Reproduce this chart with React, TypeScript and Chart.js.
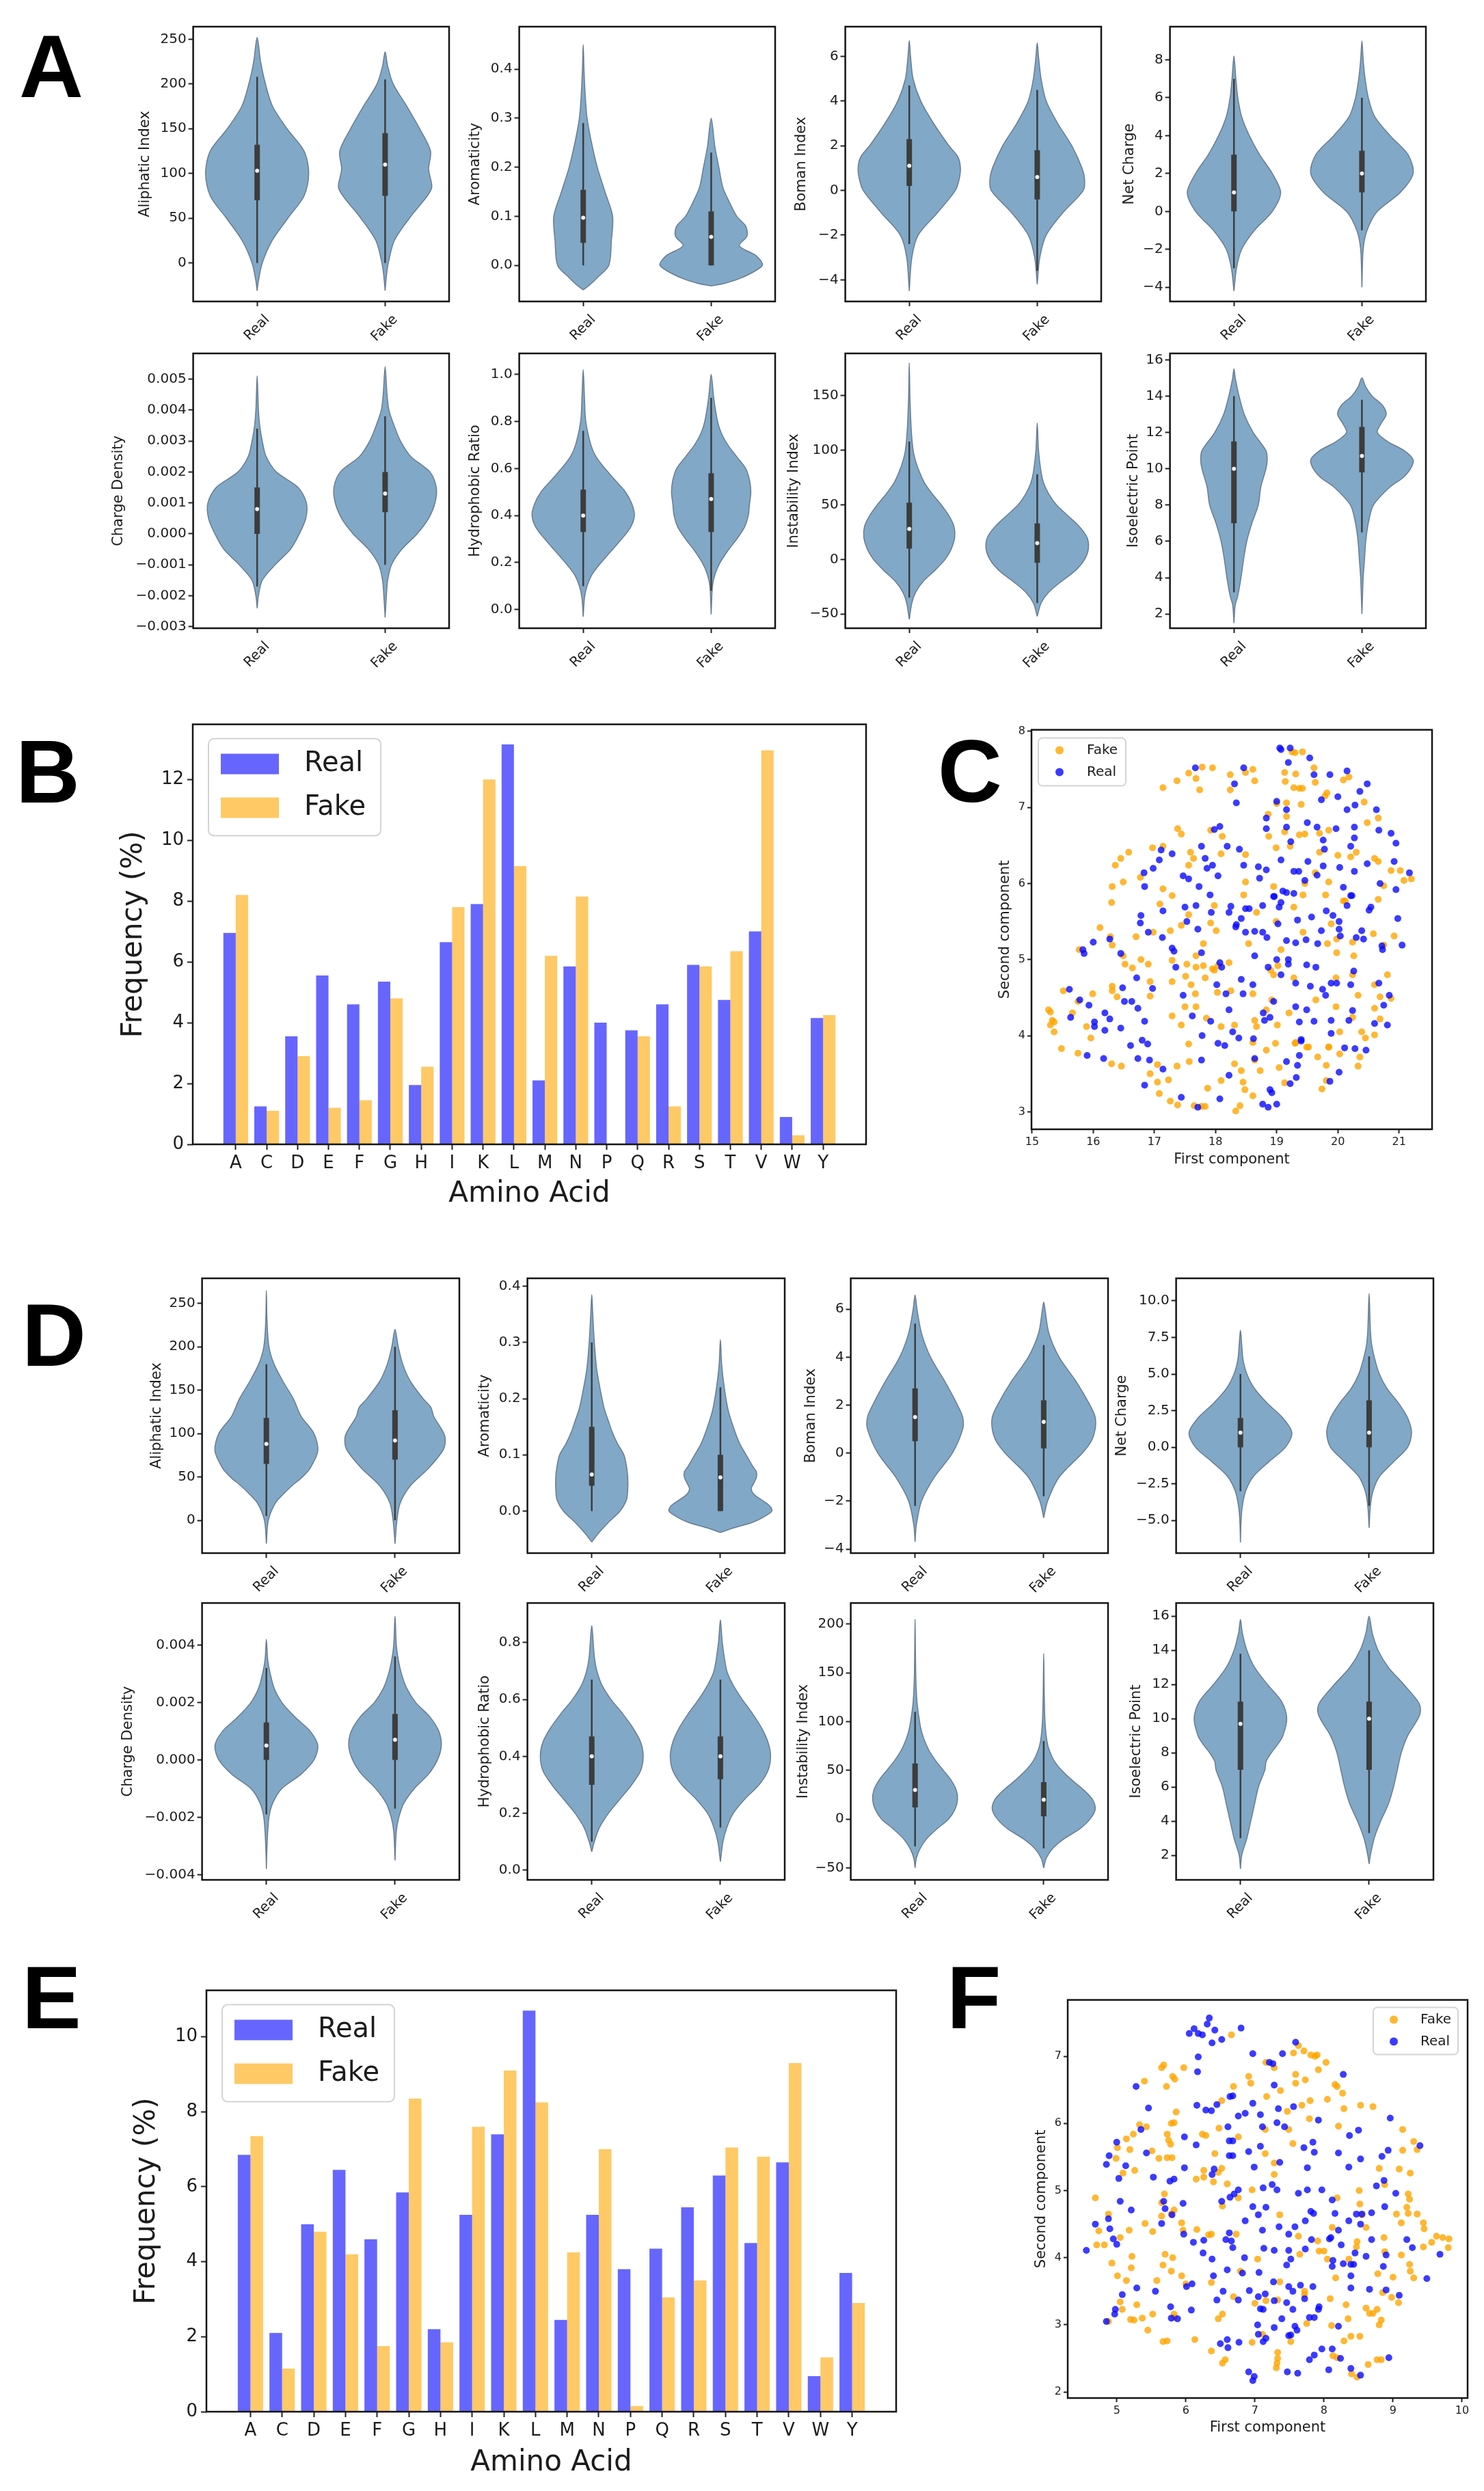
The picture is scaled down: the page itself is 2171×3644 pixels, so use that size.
import React, { useEffect, useRef } from "react";
import { Chart, registerables } from "chart.js";
Chart.register(...registerables);

const FONT = "'DejaVu Sans', 'Liberation Sans', sans-serif";
const TXT = "#1c1c1c";
const TICK_C = "#222222";
const V_FILL = "rgb(129,168,199)";
const V_EDGE = "rgb(105,125,145)";
const BOX_C = "#3c3c3c";
const REAL_BAR = "#6666ff";
const FAKE_BAR = "#ffc966";
const REAL_PT = "rgba(10,10,255,0.8)";
const FAKE_PT = "rgba(255,165,0,0.8)";

// ---------------- violin data: [value, half-width] profiles, box = [low, q1, median, q3, high]
const VIOLIN_GROUPS = ["Real", "Fake"];

const A_ALI_REAL = [[-31,0],[-20,0.01],[0,0.04],[25,0.117],[50,0.24],[75,0.367],[100,0.403],[125,0.367],[150,0.233],[175,0.12],[200,0.065],[225,0.027],[252,0]];
const A_ALI_FAKE = [[-31,0],[-15,0.01],[0,0.025],[25,0.072],[50,0.19],[75,0.33],[85,0.365],[105,0.34],[125,0.355],[150,0.27],[175,0.17],[200,0.063],[220,0.02],[236,0]];
const A_ALI_REAL_BOX = [0, 70, 103, 132, 208];
const A_ALI_FAKE_BOX = [0, 75, 110, 145, 205];
const A_ALI_TICKS = [0, 50, 100, 150, 200, 250];

const A_ARO_REAL = [[-0.05,0],[-0.04,0.05],[-0.025,0.11],[0,0.2],[0.05,0.22],[0.1,0.23],[0.15,0.17],[0.2,0.11],[0.25,0.065],[0.3,0.03],[0.35,0.015],[0.4,0.006],[0.45,0]];
const A_ARO_FAKE = [[-0.042,0],[-0.037,0.1],[-0.025,0.24],[0,0.4],[0.02,0.35],[0.04,0.22],[0.06,0.28],[0.08,0.27],[0.1,0.2],[0.13,0.14],[0.16,0.09],[0.2,0.06],[0.24,0.03],[0.3,0]];
const A_ARO_REAL_BOX = [0, 0.046, 0.097, 0.154, 0.29];
const A_ARO_FAKE_BOX = [0, 0, 0.058, 0.11, 0.23];
const A_ARO_TICKS = [0, 0.1, 0.2, 0.3, 0.4];

const A_BOM_REAL = [[-4.5,0],[-3,0.02],[-2,0.07],[-1,0.22],[0,0.36],[0.5,0.39],[1,0.4],[1.5,0.38],[2,0.31],[3,0.19],[4,0.09],[5,0.03],[6,0.01],[6.7,0]];
const A_BOM_FAKE = [[-4.2,0],[-3,0.02],[-2,0.07],[-1,0.2],[0,0.36],[0.5,0.37],[1,0.35],[2,0.27],[3,0.16],[4,0.07],[5,0.03],[6,0.01],[6.6,0]];
const A_BOM_REAL_BOX = [-2.4, 0.2, 1.1, 2.3, 4.7];
const A_BOM_FAKE_BOX = [-3.6, -0.4, 0.6, 1.8, 4.5];
const A_BOM_TICKS = [-4, -2, 0, 2, 4, 6];

const A_NET_REAL = [[-4.2,0],[-3,0.02],[-2,0.06],[-1,0.16],[0,0.3],[1,0.365],[2,0.3],[3,0.2],[4,0.12],[5,0.06],[6,0.03],[7,0.015],[8.2,0]];
const A_NET_FAKE = [[-4,0],[-2,0.01],[-1,0.04],[0,0.12],[1,0.3],[2,0.4],[3,0.36],[4,0.22],[5,0.1],[6,0.05],[7,0.025],[8,0.01],[9,0]];
const A_NET_REAL_BOX = [-3, 0, 1, 3, 7];
const A_NET_FAKE_BOX = [-1, 1, 2, 3.2, 6];
const A_NET_TICKS = [-4, -2, 0, 2, 4, 6, 8];

const A_CHG_REAL = [[-0.0024,0],[-0.002,0.01],[-0.0015,0.04],[-0.001,0.14],[-0.0005,0.26],[0,0.33],[0.0005,0.38],[0.001,0.385],[0.0015,0.32],[0.002,0.15],[0.0025,0.07],[0.003,0.04],[0.0035,0.02],[0.004,0.01],[0.0051,0]];
const A_CHG_FAKE = [[-0.0027,0],[-0.002,0.01],[-0.0015,0.02],[-0.001,0.05],[-0.0005,0.13],[0,0.25],[0.0005,0.34],[0.001,0.39],[0.0015,0.4],[0.002,0.35],[0.0025,0.2],[0.003,0.12],[0.0035,0.07],[0.004,0.03],[0.0045,0.015],[0.0054,0]];
const A_CHG_REAL_BOX = [-0.0017, 0, 0.0008, 0.0015, 0.0034];
const A_CHG_FAKE_BOX = [-0.001, 0.0007, 0.0013, 0.002, 0.0038];
const A_CHG_TICKS = [-0.003, -0.002, -0.001, 0, 0.001, 0.002, 0.003, 0.004, 0.005];

const A_HYD_REAL = [[-0.03,0],[0.05,0.01],[0.1,0.03],[0.15,0.07],[0.2,0.14],[0.25,0.22],[0.3,0.3],[0.35,0.37],[0.4,0.4],[0.45,0.38],[0.5,0.33],[0.55,0.25],[0.6,0.17],[0.65,0.1],[0.7,0.06],[0.8,0.02],[0.9,0.01],[1.02,0]];
const A_HYD_FAKE = [[-0.02,0],[0.1,0.01],[0.15,0.03],[0.2,0.07],[0.25,0.13],[0.3,0.2],[0.35,0.26],[0.4,0.29],[0.45,0.3],[0.5,0.31],[0.55,0.3],[0.6,0.27],[0.65,0.2],[0.7,0.13],[0.75,0.08],[0.8,0.05],[0.9,0.02],[1.0,0]];
const A_HYD_REAL_BOX = [0.1, 0.33, 0.4, 0.51, 0.76];
const A_HYD_FAKE_BOX = [0.08, 0.33, 0.47, 0.58, 0.9];
const A_HYD_TICKS = [0, 0.2, 0.4, 0.6, 0.8, 1.0];

const A_INS_REAL = [[-55,0],[-40,0.02],[-30,0.05],[-20,0.11],[-10,0.2],[0,0.28],[10,0.33],[20,0.355],[30,0.35],[40,0.31],[50,0.25],[60,0.18],[70,0.12],[80,0.08],[90,0.05],[100,0.03],[120,0.015],[150,0.005],[180,0]];
const A_INS_FAKE = [[-52,0],[-40,0.03],[-30,0.09],[-20,0.19],[-10,0.3],[0,0.37],[10,0.4],[20,0.39],[30,0.33],[40,0.24],[50,0.15],[60,0.09],[70,0.05],[80,0.03],[100,0.01],[125,0]];
const A_INS_REAL_BOX = [-35, 10, 28, 52, 108];
const A_INS_FAKE_BOX = [-40, -3, 15, 33, 78];
const A_INS_TICKS = [-50, 0, 50, 100, 150];

const A_ISO_REAL = [[1.5,0],[2.5,0.01],[3,0.03],[4,0.055],[5,0.075],[6,0.1],[7,0.14],[8,0.19],[9,0.21],[10,0.25],[10.5,0.26],[11,0.25],[12,0.15],[13,0.08],[14,0.04],[15,0.01],[15.5,0]];
const A_ISO_FAKE = [[2,0],[4,0.01],[5,0.02],[6,0.03],[7,0.05],[8,0.09],[9,0.22],[9.5,0.32],[10,0.38],[10.5,0.4],[11,0.33],[11.5,0.2],[12,0.12],[12.5,0.15],[13,0.19],[13.5,0.16],[14,0.08],[14.5,0.03],[15,0]];
const A_ISO_REAL_BOX = [3.2, 7, 10, 11.5, 14];
const A_ISO_FAKE_BOX = [6.5, 9.8, 10.7, 12.3, 13.8];
const A_ISO_TICKS = [2, 4, 6, 8, 10, 12, 14, 16];

const D_ALI_REAL = [[-27,0],[0,0.015],[20,0.07],[30,0.13],[40,0.2],[50,0.28],[60,0.34],[80,0.4],[100,0.37],[120,0.27],[140,0.21],[160,0.13],[180,0.06],[200,0.02],[230,0.005],[265,0]];
const D_ALI_FAKE = [[-27,0],[0,0.015],[20,0.04],[40,0.12],[60,0.26],[80,0.37],[90,0.39],[100,0.38],[120,0.3],[130,0.28],[140,0.22],[160,0.12],[180,0.06],[200,0.025],[220,0]];
const D_ALI_REAL_BOX = [5, 65, 88, 118, 180];
const D_ALI_FAKE_BOX = [0, 70, 92, 127, 200];
const D_ALI_TICKS = [0, 50, 100, 150, 200, 250];

const D_ARO_REAL = [[-0.055,0],[-0.04,0.05],[-0.02,0.13],[0,0.22],[0.02,0.27],[0.04,0.28],[0.06,0.28],[0.08,0.27],[0.1,0.25],[0.12,0.2],[0.14,0.16],[0.16,0.13],[0.18,0.1],[0.2,0.08],[0.25,0.04],[0.3,0.02],[0.35,0.008],[0.385,0]];
const D_ARO_FAKE = [[-0.038,0],[-0.03,0.1],[-0.02,0.25],[-0.01,0.34],[0,0.4],[0.01,0.38],[0.02,0.32],[0.03,0.26],[0.04,0.24],[0.05,0.26],[0.06,0.28],[0.07,0.28],[0.08,0.25],[0.1,0.2],[0.12,0.15],[0.15,0.1],[0.18,0.06],[0.22,0.03],[0.26,0.01],[0.305,0]];
const D_ARO_REAL_BOX = [0, 0.045, 0.065, 0.15, 0.3];
const D_ARO_FAKE_BOX = [0, 0, 0.06, 0.1, 0.22];
const D_ARO_TICKS = [0, 0.1, 0.2, 0.3, 0.4];

const D_BOM_REAL = [[-3.7,0],[-3,0.01],[-2,0.05],[-1,0.15],[0,0.29],[1,0.37],[1.5,0.37],[2,0.33],[3,0.23],[4,0.12],[5,0.05],[6,0.015],[6.6,0]];
const D_BOM_FAKE = [[-2.7,0],[-2,0.03],[-1,0.12],[0,0.3],[0.5,0.37],[1,0.4],[1.5,0.4],[2,0.36],[3,0.25],[4,0.12],[5,0.04],[6,0.01],[6.3,0]];
const D_BOM_REAL_BOX = [-2.2, 0.5, 1.5, 2.7, 5.4];
const D_BOM_FAKE_BOX = [-1.8, 0.2, 1.3, 2.2, 4.5];
const D_BOM_TICKS = [-4, -2, 0, 2, 4, 6];

const D_NET_REAL = [[-6.5,0],[-5,0.005],[-4,0.015],[-3,0.04],[-2,0.1],[-1,0.22],[0,0.35],[1,0.4],[2,0.33],[3,0.21],[4,0.11],[5,0.05],[6,0.02],[7,0.01],[8,0]];
const D_NET_FAKE = [[-5.5,0],[-4,0.01],[-3,0.03],[-2,0.08],[-1,0.19],[0,0.3],[1,0.33],[2,0.3],[3,0.23],[4,0.14],[5,0.08],[6,0.045],[7,0.02],[8,0.01],[10.5,0]];
const D_NET_REAL_BOX = [-3, 0, 1, 2, 5];
const D_NET_FAKE_BOX = [-4, 0, 1, 3.2, 6.2];
const D_NET_TICKS = [-5, -2.5, 0, 2.5, 5, 7.5, 10];

const D_CHG_REAL = [[-0.0038,0],[-0.003,0.005],[-0.002,0.02],[-0.0015,0.05],[-0.001,0.12],[-0.0005,0.27],[0,0.37],[0.0005,0.4],[0.001,0.34],[0.0015,0.22],[0.002,0.12],[0.0025,0.06],[0.003,0.03],[0.0035,0.01],[0.0042,0]];
const D_CHG_FAKE = [[-0.0035,0],[-0.0025,0.01],[-0.002,0.03],[-0.0015,0.07],[-0.001,0.15],[-0.0005,0.26],[0,0.33],[0.0005,0.36],[0.001,0.34],[0.0015,0.27],[0.002,0.16],[0.0025,0.09],[0.003,0.05],[0.0035,0.025],[0.004,0.01],[0.005,0]];
const D_CHG_REAL_BOX = [-0.0019, 0, 0.0005, 0.0013, 0.0032];
const D_CHG_FAKE_BOX = [-0.0017, 0, 0.0007, 0.0016, 0.0036];
const D_CHG_TICKS = [-0.004, -0.002, 0, 0.002, 0.004];

const D_HYD_REAL = [[0.065,0],[0.1,0.02],[0.15,0.06],[0.2,0.13],[0.25,0.22],[0.3,0.31],[0.35,0.38],[0.4,0.4],[0.45,0.38],[0.5,0.32],[0.55,0.24],[0.6,0.15],[0.65,0.08],[0.7,0.04],[0.75,0.02],[0.86,0]];
const D_HYD_FAKE = [[0.03,0],[0.1,0.02],[0.15,0.05],[0.2,0.1],[0.25,0.19],[0.3,0.3],[0.35,0.37],[0.4,0.39],[0.45,0.37],[0.5,0.32],[0.55,0.25],[0.6,0.17],[0.65,0.1],[0.7,0.05],[0.8,0.015],[0.88,0]];
const D_HYD_REAL_BOX = [0.1, 0.3, 0.4, 0.47, 0.67];
const D_HYD_FAKE_BOX = [0.15, 0.32, 0.4, 0.47, 0.67];
const D_HYD_TICKS = [0, 0.2, 0.4, 0.6, 0.8];

const D_INS_REAL = [[-50,0],[-40,0.01],[-30,0.04],[-20,0.09],[-10,0.17],[0,0.26],[10,0.31],[20,0.33],[30,0.32],[40,0.28],[50,0.22],[60,0.16],[70,0.11],[80,0.075],[90,0.05],[100,0.035],[120,0.015],[150,0.005],[205,0]];
const D_INS_FAKE = [[-50,0],[-40,0.02],[-30,0.07],[-20,0.16],[-10,0.28],[0,0.36],[10,0.4],[20,0.38],[30,0.31],[40,0.22],[50,0.14],[60,0.08],[70,0.045],[80,0.025],[100,0.01],[130,0.004],[170,0]];
const D_INS_REAL_BOX = [-28, 12, 30, 57, 110];
const D_INS_FAKE_BOX = [-30, 3, 20, 38, 80];
const D_INS_TICKS = [-50, 0, 50, 100, 150, 200];

const D_ISO_REAL = [[1.2,0],[2,0.01],[3,0.05],[4,0.08],[5,0.11],[6,0.14],[7,0.19],[7.5,0.2],[8,0.24],[8.5,0.29],[9,0.33],[10,0.36],[11,0.32],[12,0.21],[13,0.11],[14,0.05],[15,0.015],[15.8,0]];
const D_ISO_FAKE = [[1.5,0],[2,0.01],[3,0.04],[4,0.09],[5,0.15],[6,0.19],[7,0.22],[8,0.25],[9,0.3],[10,0.38],[10.5,0.4],[11,0.38],[12,0.27],[13,0.15],[14,0.07],[15,0.025],[16,0]];
const D_ISO_REAL_BOX = [3, 7, 9.7, 11, 13.8];
const D_ISO_FAKE_BOX = [3.3, 7, 10, 11, 14];
const D_ISO_TICKS = [2, 4, 6, 8, 10, 12, 14, 16];

// ---------------- amino acid frequencies
const AMINO = ["A","C","D","E","F","G","H","I","K","L","M","N","P","Q","R","S","T","V","W","Y"];
const B_REAL = [6.95,1.25,3.55,5.55,4.6,5.35,1.95,6.65,7.9,13.15,2.1,5.85,4.0,3.75,4.6,5.9,4.75,7.0,0.9,4.15];
const B_FAKE = [8.2,1.1,2.9,1.2,1.45,4.8,2.55,7.8,12.0,9.15,6.2,8.15,0,3.55,1.25,5.85,6.35,12.95,0.3,4.25];
const B_TICKS = [0, 2, 4, 6, 8, 10, 12];
const E_REAL = [6.85,2.1,5.0,6.45,4.6,5.85,2.2,5.25,7.4,10.7,2.45,5.25,3.8,4.35,5.45,6.3,4.5,6.65,0.95,3.7];
const E_FAKE = [7.35,1.15,4.8,4.2,1.75,8.35,1.85,7.6,9.1,8.25,4.25,7.0,0.15,3.05,3.5,7.05,6.8,9.3,1.45,2.9];
const E_TICKS = [0, 2, 4, 6, 8, 10];

// ---------------- embeddings (first component, second component)
const C_FAKE = [[17.14,7.26],[17.37,7.35],[17.56,7.45],[17.68,7.38],[17.74,7.23],[17.78,7.53],[17.95,7.52],[18.24,7.43],[18.24,7.23],[18.49,7.46],[18.61,7.5],[18.64,7.35],[19.25,7.73],[19.3,7.72],[19.42,7.73],[19.13,7.46],[19.31,7.44],[19.14,7.34],[19.28,7.26],[19.37,7.25],[19.42,7.25],[19.61,7.52],[19.63,7.33],[19.82,7.19],[19.79,7.15],[20.18,7.4],[20.09,7.36],[19.4,7.04],[19.16,7.06],[19.0,7.05],[20.43,7.07],
[17.38,6.72],[17.44,6.65],[16.97,6.47],[17.14,6.49],[16.58,6.41],[16.45,6.33],[16.36,6.24],[16.31,5.96],[16.49,6.02],[16.77,6.08],[17.59,6.41],[17.64,6.33],[17.56,6.24],[17.92,6.7],[18.11,6.62],[18.09,6.39],[18.49,6.38],[18.86,6.91],[18.87,6.62],[19.13,6.68],[19.16,6.88],[19.37,6.64],[19.46,6.65],[19.7,6.66],[19.85,6.7],[19.7,6.41],[18.99,6.47],[19.22,6.49],[20.21,6.35],[20.0,6.37],[20.3,6.41],[20.48,6.8],[20.66,6.86],[20.6,6.33],[20.66,6.29],[20.87,6.17],[21.02,6.17],[21.08,6.04],[21.2,6.06],[19.85,6.02],[19.63,6.14],[19.46,6.0],[18.95,5.96],[18.49,6.02],[20.12,5.77],
[16.3,5.75],[16.11,5.42],[16.31,5.19],[16.28,5.3],[15.77,5.13],[16.49,5.05],[16.52,4.94],[16.64,4.89],[16.78,5.0],[16.9,4.94],[16.7,5.3],[16.98,5.36],[17.14,5.93],[17.09,5.73],[17.29,5.84],[17.26,5.38],[17.44,5.45],[17.56,5.59],[17.29,4.99],[17.53,4.94],[17.68,5.05],[17.68,4.9],[17.8,5.21],[17.92,5.48],[18.01,5.38],[17.98,5.71],[17.8,4.92],[17.95,4.88],[18.04,4.92],[18.22,4.96],[18.54,5.21],[18.46,5.85],[18.67,5.62],[19.07,5.13],[19.28,5.69],[19.43,5.36],[19.43,5.85],[19.83,5.21],[19.89,5.47],[19.8,5.85],[19.98,5.09],[19.98,5.27],[20.09,5.77],[20.24,5.23],[20.26,5.05],[20.58,5.34],[20.75,5.19],[20.92,5.31],[20.66,5.79],[20.75,5.97],[18.99,5.5],[18.9,4.86],[19.02,4.92],
[15.51,4.59],[15.75,4.45],[15.66,4.3],[15.27,4.34],[15.3,4.31],[15.33,4.2],[15.3,4.14],[15.36,4.05],[15.36,4.18],[15.89,4.12],[15.99,4.55],[15.96,3.97],[15.48,3.83],[16.31,4.65],[16.31,4.59],[16.39,4.51],[16.93,4.52],[16.93,4.71],[17.29,4.71],[17.29,4.26],[17.44,4.14],[17.5,4.38],[17.51,4.78],[17.6,4.67],[17.67,4.55],[17.68,4.38],[17.83,4.76],[17.85,4.23],[17.98,4.86],[18.03,4.57],[18.09,4.12],[18.25,4.59],[18.31,4.14],[18.61,4.55],[18.64,4.2],[18.67,4.12],[18.61,3.91],[18.83,4.34],[18.92,4.47],[18.95,4.8],[19.01,4.14],[19.2,4.3],[19.28,4.76],[19.31,3.91],[19.49,3.85],[19.64,4.47],[19.85,3.85],[19.97,4.38],[20.03,4.05],[20.24,4.24],[20.24,4.8],[20.33,4.53],[20.39,4.05],[20.45,3.97],[20.6,4.36],[20.6,4.01],[20.6,4.67],[20.69,4.51],[20.81,4.8],[20.87,4.49],[20.69,4.22],[19.97,4.76],
[15.75,3.77],[16.3,3.63],[16.46,3.6],[16.93,3.5],[17.05,3.62],[17.05,3.39],[17.08,3.24],[17.23,3.42],[17.26,3.14],[17.38,3.09],[17.37,3.6],[17.56,3.89],[17.57,3.66],[17.65,3.08],[17.77,3.07],[17.83,3.07],[17.87,3.31],[18.09,3.41],[18.31,3.63],[18.33,3.01],[18.4,3.08],[18.42,3.54],[18.45,3.39],[18.48,3.29],[18.61,3.21],[18.64,3.68],[18.73,3.54],[18.83,3.81],[18.98,3.9],[19.04,3.58],[19.13,3.38],[19.3,3.9],[19.52,3.85],[19.67,3.72],[19.81,3.61],[19.74,3.3],[19.85,3.85],[20.03,3.76],[20.36,3.72],[20.33,3.6],[19.81,3.41]];

const C_REAL = [[19.05,7.78],[19.07,7.76],[19.22,7.78],[19.19,7.59],[19.54,7.65],[19.61,7.43],[19.87,7.43],[20.15,7.48],[20.48,7.31],[20.36,7.21],[20.0,7.14],[19.73,7.1],[20.28,7.03],[20.15,6.97],[20.63,6.97],[19.16,6.97],[19.0,7.08],[18.31,7.31],[18.34,7.06],[18.46,7.52],[17.67,7.52],
[17.77,6.49],[17.98,6.71],[18.07,6.75],[18.19,6.49],[18.83,6.86],[18.83,6.72],[19.16,6.74],[19.5,6.8],[19.66,6.74],[19.97,6.72],[20.27,6.74],[20.67,6.7],[20.87,6.66],[20.95,6.53],[20.27,6.6],[20.21,6.49],[19.76,6.57],[19.78,6.45],[19.23,6.55],[19.07,6.31],[19.51,6.29],[18.39,6.45],[18.46,6.24],[18.7,6.22],[18.83,6.18],[17.11,6.44],[17.08,6.31],[16.98,6.2],[16.83,6.14],[16.84,5.96],[17.29,6.39],[17.47,6.1],[17.56,6.06],[17.83,6.33],[17.86,6.2],[17.95,6.24],[18.04,6.1],[17.73,5.96],[19.28,6.16],[19.36,6.16],[19.66,6.11],[19.76,6.23],[20.03,6.21],[20.27,6.16],[20.48,6.26],[20.92,6.29],[20.69,6.0],[20.95,5.92],[21.17,6.14],[20.09,5.95],[20.23,5.84],[19.46,6.04],[18.72,6.07],[19.1,5.9],[18.96,5.83],[19.16,5.88],[19.28,5.87],
[16.27,5.27],[16.0,5.23],[15.83,5.13],[15.85,5.08],[16.45,5.08],[16.78,5.58],[16.77,5.48],[16.9,5.36],[17.14,5.64],[17.13,5.29],[17.29,5.15],[17.32,5.11],[17.35,4.9],[17.5,5.69],[17.53,5.5],[17.68,5.71],[17.71,5.4],[17.77,5.09],[17.91,5.85],[17.93,5.62],[18.25,5.7],[18.22,5.62],[18.34,5.46],[18.33,5.43],[18.42,5.54],[18.49,5.67],[18.55,5.67],[18.49,5.36],[18.64,5.37],[18.77,5.36],[18.84,5.29],[18.77,5.71],[18.95,5.83],[19.04,5.69],[19.07,5.75],[19.02,5.47],[19.34,5.52],[19.16,5.25],[19.31,5.22],[19.48,5.26],[19.57,5.56],[19.73,5.38],[19.67,5.21],[19.81,5.64],[19.92,5.58],[20.02,5.5],[20.02,5.4],[20.04,5.31],[20.15,5.71],[20.3,5.29],[20.39,5.38],[20.42,5.27],[20.54,5.69],[20.51,5.65],[20.72,5.18],[20.73,5.13],[20.98,5.54],[21.05,5.19],[20.21,5.84],[18.07,4.96],[18.1,4.9],[18.64,5.05],[19.0,5.0],[19.19,5.0],[19.19,4.94],[19.49,4.93],[19.64,4.9],[18.86,4.9],
[15.61,4.61],[15.63,4.24],[15.78,4.47],[15.93,4.4],[16.02,4.18],[16.02,4.12],[16.19,4.07],[16.19,4.3],[16.27,4.22],[16.45,4.1],[16.48,4.63],[16.51,4.45],[16.63,4.45],[16.73,4.36],[16.71,4.76],[16.84,4.19],[16.97,4.62],[17.47,4.53],[17.62,4.26],[18.02,4.67],[18.17,4.55],[18.22,4.34],[18.42,4.74],[18.45,4.55],[18.61,4.67],[18.78,4.3],[18.8,4.2],[18.89,4.24],[18.95,4.45],[19.07,4.8],[19.31,4.69],[19.31,4.38],[19.37,4.18],[19.49,4.34],[19.55,4.65],[19.61,4.19],[19.75,4.61],[19.8,4.53],[19.89,4.69],[19.89,4.2],[19.89,4.03],[19.98,4.69],[20.18,4.2],[20.21,4.67],[20.24,4.33],[20.26,4.85],[20.6,4.16],[20.67,4.69],[20.75,4.4],[20.81,4.14],[20.84,4.53],[20.11,3.84],[19.4,3.93],[18.62,3.96],[18.38,3.97],[18.28,4.05],[18.15,3.87],[18.04,3.9],[17.92,4.19],[17.78,4.0],
[15.9,3.74],[16.17,3.7],[16.61,3.87],[16.73,3.7],[16.8,3.94],[16.89,3.89],[16.92,3.68],[16.84,3.35],[17.14,3.56],[17.44,3.19],[17.77,3.68],[17.71,3.06],[18.07,3.17],[18.22,3.48],[18.64,3.7],[18.77,3.1],[18.86,3.06],[18.89,3.29],[18.92,3.25],[19.0,3.1],[19.16,3.66],[19.22,3.37],[19.34,3.61],[19.32,3.45],[19.37,3.74],[19.4,3.95],[19.87,3.4],[20.02,3.52],[20.28,3.83],[20.46,3.81]];

const F_REAL = [[6.34,7.57],[6.31,7.48],[6.12,7.41],[6.05,7.34],[6.18,7.34],[6.24,7.32],[6.42,7.39],[6.38,7.2],[6.52,7.25],[6.8,7.42],[6.18,6.99],[6.17,6.77],[7.59,7.21],[6.97,7.04],[7.4,7.04],[7.21,6.91],[7.26,6.89],[7.28,6.57],[8.28,6.73],[5.28,6.55],[5.46,6.23],[5.35,5.91],[6.16,6.27],[6.29,6.2],[6.37,6.19],[6.45,6.28],[6.64,6.4],[6.68,6.41],[6.97,6.3],[6.76,6.11],[6.86,6.15],[7.08,6.13],[7.34,6.22],[7.56,6.25],[7.11,5.95],[7.32,6.01],[7.43,5.95],[7.92,6.05],[8.5,5.9],[8.37,5.82],[8.96,6.08],[9.39,5.67],
[5.0,5.72],[4.89,5.52],[4.85,5.39],[5.13,5.37],[5.03,5.18],[5.43,5.56],[5.53,5.2],[5.98,5.8],[5.98,5.34],[6.15,5.68],[5.83,5.17],[5.77,5.14],[6.61,5.95],[6.63,5.74],[6.68,5.74],[6.63,5.52],[6.68,5.52],[6.41,5.32],[6.38,5.24],[6.91,5.58],[7.08,5.66],[6.99,5.35],[7.36,5.42],[7.71,5.64],[7.76,5.34],[7.84,5.72],[7.86,5.57],[8.21,5.56],[8.36,5.35],[8.53,5.47],[8.84,5.51],[8.93,5.6],[8.87,5.15],[8.76,5.07],[9.04,4.96],[8.88,4.76],[8.69,4.67],[8.12,4.86],[8.16,4.66],[8.55,4.65],[8.53,4.5],[8.47,4.65],[8.36,4.55],[8.21,4.41],[8.1,4.3],[7.76,5.01],[7.97,5.01],[7.73,4.55],[7.81,4.69],[7.85,4.66],[7.63,4.96],[7.58,4.46],[7.49,4.35],[7.32,5.01],[7.25,5.09],[7.12,5.04],[7.16,4.75],[7.05,4.64],[6.97,4.76],[6.86,4.55],[6.76,5.01],[6.7,4.95],[6.64,4.9],[6.52,4.84],[5.96,4.81],[5.68,4.84],[5.7,4.73],[5.8,4.64],[5.65,4.51],[5.21,4.71],[5.05,4.84],[4.88,4.58],[4.9,4.43],[4.69,4.5],[4.95,4.28],[5.0,4.2],[4.56,4.11],[5.97,4.35],[6.11,4.23],[6.26,4.26],[6.63,4.37],[6.66,4.25],[6.68,4.15],[6.58,4.27],[6.25,4.07],[6.38,3.98],[6.85,4.0],[7.28,4.11],[7.13,4.14],[7.11,4.41],[7.35,4.46],[7.49,4.11],[7.52,3.98],[7.46,3.89],[7.73,4.13],[7.82,4.27],[8.08,4.28],[8.13,3.96],[8.12,3.87],[8.25,4.19],[8.28,3.91],[8.39,3.9],[8.43,3.9],[8.45,4.07],[8.61,4.02],[8.69,4.27],[8.9,4.04],[8.86,3.87],[9.2,4.27],[9.28,4.15],[9.68,4.05],[9.49,3.69],
[5.08,3.45],[5.29,3.55],[5.56,3.5],[6.01,3.57],[6.09,3.61],[6.4,3.73],[6.6,3.82],[6.54,3.5],[6.45,3.37],[6.76,3.37],[6.82,3.77],[6.92,3.51],[7.05,3.42],[7.06,3.78],[7.15,3.46],[7.08,3.24],[7.12,3.23],[7.28,3.36],[7.27,3.64],[7.49,3.57],[7.55,3.5],[7.66,3.59],[7.72,3.39],[7.84,3.57],[7.46,3.33],[7.55,3.23],[7.58,2.98],[7.61,2.92],[7.39,3.09],[7.28,2.96],[7.79,3.11],[7.86,3.11],[7.92,3.23],[7.93,3.27],[7.52,2.85],[8.39,3.73],[8.39,3.55],[8.66,3.53],[8.9,3.52],[9.09,3.44],[5.78,3.27],[5.79,3.1],[5.88,3.09],[6.08,3.22],[4.98,3.23],[4.97,3.16],[4.85,3.05],[7.04,3.0],[7.05,2.86],[6.77,2.74],[6.6,2.78],[6.5,2.72],[6.61,2.66],[7.12,2.75],[7.16,2.8],[7.49,2.84],[7.97,2.64],[7.79,2.48],[7.86,2.55],[8.12,2.64],[8.24,2.5],[8.07,2.33],[8.39,2.35],[8.53,2.25],[8.94,2.51],[7.62,2.28],[7.47,2.3],[6.91,2.3],[6.99,2.23],[6.97,2.17],[8.21,2.98]];

const F_FAKE = [[6.66,7.32],[7.56,7.05],[7.63,7.16],[7.71,7.08],[7.81,7.02],[7.87,7.0],[7.9,7.02],[8.03,6.91],[7.16,6.91],[7.28,6.83],[7.92,6.8],[7.59,6.73],[7.59,6.6],[7.73,6.65],[8.16,6.58],[8.19,6.55],[8.27,6.45],[7.37,6.49],[7.17,6.4],[8.05,6.36],[7.8,6.34],[7.68,6.27],[8.53,6.27],[8.71,6.25],[8.29,6.22],[7.47,6.18],[7.49,5.91],[7.79,6.07],[8.21,5.96],[9.14,5.91],[9.14,5.6],[9.3,5.73],[9.35,5.61],[7.55,5.7],[6.91,6.7],[6.94,6.6],[6.69,6.55],[6.52,6.34],[5.4,6.63],[5.65,6.83],[5.68,6.87],[5.97,6.83],[5.81,6.7],[5.84,6.66],[5.72,6.55],[5.86,6.17],[5.79,6.0],[5.83,6.01],[5.73,5.84],[5.75,5.75],[5.78,5.69],[5.33,5.98],[5.43,5.95],[5.24,5.84],[5.14,5.77],[5.01,5.64],[4.99,5.48],[5.19,5.61],[5.51,5.59],[5.61,5.48],[5.73,5.49],[5.8,5.49],[6.24,5.84],[6.29,5.82],[6.48,5.93],[6.76,5.8],[6.42,5.55],[6.52,5.33],[6.26,5.3],[6.15,5.17],[6.26,5.2],[6.4,5.13],[6.6,5.1],[6.47,5.27],[5.26,5.3],[5.09,5.26],[5.69,4.95],[5.65,4.82],[5.83,4.71],[5.79,4.65],[5.65,4.62],[6.53,4.77],[6.76,4.89],[6.96,5.01],[7.15,5.55],[7.28,5.24],[7.28,5.41],[7.15,5.91],
[4.69,4.89],[4.88,4.65],[4.74,4.4],[4.71,4.19],[4.82,4.19],[5.05,4.3],[5.18,4.41],[5.41,4.51],[5.52,4.39],[5.94,4.52],[5.96,4.41],[6.16,4.42],[6.37,4.35],[6.73,4.35],[7.36,4.64],[7.63,4.32],[7.91,4.25],[8.0,4.1],[8.05,3.98],[8.12,4.45],[8.19,4.89],[8.51,5.0],[8.52,4.8],[8.55,4.64],[8.61,4.45],[8.48,4.24],[8.47,4.16],[8.87,4.3],[8.88,4.09],[8.8,5.33],[8.88,5.09],[9.09,5.32],[9.25,5.26],[9.05,4.65],[9.12,4.52],[9.22,4.95],[9.24,4.87],[9.2,4.75],[9.22,4.66],[9.35,4.65],[9.44,4.52],[9.45,4.43],[9.44,4.16],[9.56,4.23],[9.63,4.32],[9.72,4.3],[9.81,4.28],[9.8,4.15],[9.12,4.04],[9.0,3.71],[9.24,3.9],[9.25,3.8],[9.3,3.7],[8.78,3.76],[8.85,3.48],[8.98,3.41],[9.08,3.33],[8.17,3.7],[8.09,3.39],[8.32,3.3],[8.35,3.09],[8.11,2.99],[8.61,3.25],[8.66,3.17],[8.71,3.17],[8.77,3.23],[8.83,3.07],[8.8,3.0],[8.29,2.76],[8.39,2.83],[8.52,2.83],[8.13,2.54],[8.19,2.51],[8.64,2.41],[8.77,2.48],[8.83,2.48],[8.4,2.27],[8.48,2.22],[7.93,4.1],[7.65,4.05],[7.72,3.5],[7.75,3.02],[7.36,3.64],[7.16,3.36],[7.0,3.32],[7.04,3.98],[7.33,2.59],[7.33,2.5],[7.32,2.43],[7.31,2.36],[7.52,2.75],[7.11,2.86],[6.96,2.74],[6.69,3.42],[6.53,3.16],[6.47,3.09],[6.57,2.48],[6.53,2.43],[6.37,2.61],[6.79,3.8],[6.37,3.63],[6.33,4.34],[5.94,3.73],[6.0,3.61],[6.13,2.78],[5.73,2.76],[5.67,2.75],[5.83,3.16],[5.83,3.11],[5.7,4.05],[5.81,4.0],[5.79,3.8],[5.67,3.89],[5.58,3.66],[5.52,3.16],[5.45,2.92],[5.37,3.1],[5.29,3.3],[5.25,3.07],[5.2,3.08],[5.08,3.23],[5.05,3.34],[5.01,3.73],[5.14,3.66],[5.21,3.85],[5.22,4.02],[4.93,3.92],[4.88,3.05],[7.72,3.45],[7.33,3.37],[8.36,3.98]];
const C_XTICKS = [15, 16, 17, 18, 19, 20, 21];
const C_YTICKS = [3, 4, 5, 6, 7, 8];
const F_XTICKS = [5, 6, 7, 8, 9, 10];
const F_YTICKS = [2, 3, 4, 5, 6, 7];

// ---------------- helpers
const fmt = (v: number, dec: number) => Number(v).toFixed(dec).replace("-", "\u2212");

const framePlugin = {
  id: "frame",
  afterDraw(chart: any) {
    const { ctx, chartArea: a } = chart;
    ctx.save();
    ctx.strokeStyle = "#151515";
    ctx.lineWidth = 2.5;
    ctx.strokeRect(a.left, a.top, a.right - a.left, a.bottom - a.top);
    ctx.restore();
  },
};

function makeLegend(cfg: any) {
  return {
    id: "boxLegend",
    afterDraw(chart: any) {
      const { ctx, chartArea: a } = chart;
      const fx = cfg.anchor === "right" ? a.right - cfg.dx - cfg.w : a.left + cfg.dx;
      const fy = a.top + cfg.dy;
      ctx.save();
      ctx.fillStyle = "rgba(255,255,255,0.85)";
      ctx.strokeStyle = "#d4d4d4";
      ctx.lineWidth = 2;
      ctx.beginPath();
      ctx.roundRect(fx, fy, cfg.w, cfg.h, cfg.r);
      ctx.fill();
      ctx.stroke();
      cfg.items.forEach((idx: number, i: number) => {
        const ds = chart.data.datasets[idx];
        const cy = fy + cfg.row0 + i * cfg.gap;
        ctx.fillStyle = ds.backgroundColor;
        if (cfg.marker === "circle") {
          ctx.beginPath();
          ctx.arc(fx + cfg.mx, cy, cfg.mr, 0, Math.PI * 2);
          ctx.fill();
        } else {
          ctx.fillRect(fx + cfg.mx, cy - cfg.mh / 2, cfg.mw, cfg.mh);
        }
        ctx.fillStyle = TXT;
        ctx.font = `${cfg.fs}px ${FONT}`;
        ctx.textAlign = "left";
        ctx.textBaseline = "middle";
        ctx.fillText(ds.label, fx + cfg.tx, cy);
      });
      ctx.restore();
    },
  };
}

const tickGrid = (len: number) => ({
  display: true,
  drawOnChartArea: false,
  drawTicks: true,
  tickLength: len,
  tickColor: TICK_C,
  tickWidth: 2,
});

function fixedTicks(values: number[]) {
  return (sc: any) => {
    sc.ticks = values.map((v) => ({ value: v }));
  };
}

function baseOptions(pad: any) {
  return {
    animation: false,
    responsive: false,
    maintainAspectRatio: false,
    devicePixelRatio: 1,
    events: [],
    layout: { padding: { left: 0, top: pad.t, right: pad.r, bottom: 0 } },
    plugins: { legend: { display: false }, tooltip: { enabled: false } },
  };
}

function violinDatasets(prof: number[][], box: number[], c: number) {
  const right = prof.map(([y, w]) => ({ x: c + w, y }));
  const left = prof.slice(0, -1).reverse().map(([y, w]) => ({ x: c - w, y }));
  return [
    { data: [...right, ...left], showLine: true, fill: "shape", backgroundColor: V_FILL, borderColor: V_EDGE, borderWidth: 1.5, borderJoinStyle: "round", pointRadius: 0, tension: 0.3, order: 4 },
    { data: [{ x: c, y: box[0] }, { x: c, y: box[4] }], showLine: true, fill: false, borderColor: BOX_C, borderWidth: 2.5, pointRadius: 0, order: 3 },
    { data: [{ x: c, y: box[1] }, { x: c, y: box[3] }], showLine: true, fill: false, borderColor: BOX_C, borderWidth: 8, borderCapStyle: "butt", pointRadius: 0, order: 2 },
    { data: [{ x: c, y: box[2] }], showLine: false, pointRadius: 3, backgroundColor: "#eeeeee", pointBackgroundColor: "#eeeeee", borderWidth: 0, pointBorderWidth: 0, order: 1 },
  ];
}

type VSpec = {
  x: number; y: number; w: number; h: number; off: number; title: string;
  range: number[]; ticks: number[]; dec: number;
  real: number[][]; fake: number[][]; realBox: number[]; fakeBox: number[];
};

const V_PAD = { t: 10, r: 10, b: 78 };

function violinConfig(s: VSpec, padL: number) {
  const tickFont = { family: FONT, size: 20 };
  return {
    type: "scatter",
    data: { datasets: [...violinDatasets(s.real, s.realBox, 0), ...violinDatasets(s.fake, s.fakeBox, 1)] },
    options: {
      ...baseOptions(V_PAD),
      scales: {
        x: {
          type: "linear", min: -0.5, max: 1.5,
          afterBuildTicks: fixedTicks([0, 1]),
          afterFit: (sc: any) => { sc.height = V_PAD.b; },
          border: { display: false },
          grid: tickGrid(7),
          ticks: { callback: (v: number) => VIOLIN_GROUPS[v], minRotation: 45, maxRotation: 45, labelOffset: 15, padding: 8, color: TXT, font: tickFont },
        },
        y: {
          type: "linear", min: s.range[0], max: s.range[1],
          afterBuildTicks: fixedTicks(s.ticks),
          afterFit: (sc: any) => { sc.width = padL; },
          border: { display: false },
          grid: tickGrid(7),
          ticks: { callback: (v: number) => fmt(v, s.dec), padding: 3, color: TXT, font: tickFont },
          title: { display: true, text: s.title, color: TXT, font: { family: FONT, size: 21 }, padding: 0 },
        },
      },
    },
    plugins: [framePlugin],
  };
}

function barConfig(real: number[], fake: number[], ymax: number, yticks: number[], padL: number, padB: number) {
  const pad = { t: 10, r: 12 };
  return {
    type: "bar",
    data: {
      datasets: [
        { label: "Real", data: AMINO.map((_, i) => ({ x: i, y: real[i] })), backgroundColor: REAL_BAR, borderWidth: 0, categoryPercentage: 0.8, barPercentage: 1.0 },
        { label: "Fake", data: AMINO.map((_, i) => ({ x: i, y: fake[i] })), backgroundColor: FAKE_BAR, borderWidth: 0, categoryPercentage: 0.8, barPercentage: 1.0 },
      ],
    },
    options: {
      ...baseOptions(pad),
      scales: {
        x: {
          type: "linear", min: -1.39, max: 20.39, offset: false,
          afterBuildTicks: fixedTicks(AMINO.map((_, i) => i)),
          afterFit: (sc: any) => { sc.height = padB; },
          border: { display: false },
          grid: { ...tickGrid(8), offset: false },
          ticks: { callback: (v: number) => AMINO[v], maxRotation: 0, minRotation: 0, autoSkip: false, padding: 5, color: TXT, font: { family: FONT, size: 26 } },
          title: { display: true, text: "Amino Acid", color: TXT, font: { family: FONT, size: 42 }, padding: 0 },
        },
        y: {
          type: "linear", min: 0, max: ymax,
          afterBuildTicks: fixedTicks(yticks),
          afterFit: (sc: any) => { sc.width = padL; },
          border: { display: false },
          grid: tickGrid(8),
          ticks: { callback: (v: number) => fmt(v, 0), padding: 5, color: TXT, font: { family: FONT, size: 26 } },
          title: { display: true, text: "Frequency (%)", color: TXT, font: { family: FONT, size: 42 }, padding: 0 },
        },
      },
    },
    plugins: [
      framePlugin,
      makeLegend({ anchor: "left", dx: 23, dy: 21, w: 252, h: 142, r: 8, items: [0, 1], marker: "rect", mx: 18, mw: 85, mh: 30, tx: 140, row0: 37, gap: 64, fs: 40 }),
    ],
  };
}

function scatterConfig(fake: number[][], real: number[][], xr: number[], yr: number[], xt: number[], yt: number[], padL: number, padB: number, legend: any) {
  const pad = { t: 10, r: 22 };
  const tf = { family: FONT, size: 16 };
  const pts = (arr: number[][]) => arr.map(([x, y]) => ({ x, y }));
  return {
    type: "scatter",
    data: {
      datasets: [
        { label: "Fake", data: pts(fake), backgroundColor: FAKE_PT, pointRadius: 5, pointHoverRadius: 5, borderWidth: 0, order: 2 },
        { label: "Real", data: pts(real), backgroundColor: REAL_PT, pointRadius: 5, pointHoverRadius: 5, borderWidth: 0, order: 1 },
      ],
    },
    options: {
      ...baseOptions(pad),
      scales: {
        x: {
          type: "linear", min: xr[0], max: xr[1],
          afterBuildTicks: fixedTicks(xt),
          afterFit: (sc: any) => { sc.height = padB; },
          border: { display: false },
          grid: tickGrid(6),
          ticks: { callback: (v: number) => fmt(v, 0), maxRotation: 0, padding: 3, color: TXT, font: tf },
          title: { display: true, text: "First component", color: TXT, font: { family: FONT, size: 21 }, padding: 0 },
        },
        y: {
          type: "linear", min: yr[0], max: yr[1],
          afterBuildTicks: fixedTicks(yt),
          afterFit: (sc: any) => { sc.width = padL; },
          border: { display: false },
          grid: tickGrid(6),
          ticks: { callback: (v: number) => fmt(v, 0), padding: 3, color: TXT, font: tf },
          title: { display: true, text: "Second component", color: TXT, font: { family: FONT, size: 21 }, padding: 0 },
        },
      },
    },
    plugins: [framePlugin, makeLegend(legend)],
  };
}

function ChartBox({ x, y, w, h, pad, make }: any) {
  const ref = useRef<HTMLCanvasElement>(null);
  useEffect(() => {
    const chart = new Chart(ref.current as HTMLCanvasElement, make());
    return () => chart.destroy();
  }, []);
  const cw = Math.round(w + pad.l + pad.r);
  const ch = Math.round(h + pad.t + pad.b);
  return (
    <canvas
      ref={ref}
      width={cw}
      height={ch}
      style={{ position: "absolute", left: Math.round(x - pad.l), top: Math.round(y - pad.t), width: cw, height: ch }}
    />
  );
}

// ---------------- layout table
const A_X = [283, 760, 1237, 1712];
const D_X = [296, 772, 1245, 1721];

const VIOLINS: VSpec[] = [
  { x: A_X[0], y: 34, w: 374, h: 407, off: 70, title: "Aliphatic Index", range: [-43, 264], ticks: A_ALI_TICKS, dec: 0, real: A_ALI_REAL, fake: A_ALI_FAKE, realBox: A_ALI_REAL_BOX, fakeBox: A_ALI_FAKE_BOX },
  { x: A_X[1], y: 34, w: 374, h: 407, off: 64, title: "Aromaticity", range: [-0.0735, 0.4865], ticks: A_ARO_TICKS, dec: 1, real: A_ARO_REAL, fake: A_ARO_FAKE, realBox: A_ARO_REAL_BOX, fakeBox: A_ARO_FAKE_BOX },
  { x: A_X[2], y: 34, w: 374, h: 407, off: 64, title: "Boman Index", range: [-4.97, 7.33], ticks: A_BOM_TICKS, dec: 0, real: A_BOM_REAL, fake: A_BOM_FAKE, realBox: A_BOM_REAL_BOX, fakeBox: A_BOM_FAKE_BOX },
  { x: A_X[3], y: 34, w: 374, h: 407, off: 59, title: "Net Charge", range: [-4.75, 9.75], ticks: A_NET_TICKS, dec: 0, real: A_NET_REAL, fake: A_NET_FAKE, realBox: A_NET_REAL_BOX, fakeBox: A_NET_FAKE_BOX },
  { x: A_X[0], y: 512, w: 374, h: 407, off: 109, title: "Charge Density", range: [-0.00305, 0.00583], ticks: A_CHG_TICKS, dec: 3, real: A_CHG_REAL, fake: A_CHG_FAKE, realBox: A_CHG_REAL_BOX, fakeBox: A_CHG_FAKE_BOX },
  { x: A_X[1], y: 512, w: 374, h: 407, off: 64, title: "Hydrophobic Ratio", range: [-0.079, 1.089], ticks: A_HYD_TICKS, dec: 1, real: A_HYD_REAL, fake: A_HYD_FAKE, realBox: A_HYD_REAL_BOX, fakeBox: A_HYD_FAKE_BOX },
  { x: A_X[2], y: 512, w: 374, h: 407, off: 75, title: "Instability Index", range: [-63, 188.7], ticks: A_INS_TICKS, dec: 0, real: A_INS_REAL, fake: A_INS_FAKE, realBox: A_INS_REAL_BOX, fakeBox: A_INS_FAKE_BOX },
  { x: A_X[3], y: 512, w: 374, h: 407, off: 53, title: "Isoelectric Point", range: [1.22, 16.35], ticks: A_ISO_TICKS, dec: 0, real: A_ISO_REAL, fake: A_ISO_FAKE, realBox: A_ISO_REAL_BOX, fakeBox: A_ISO_FAKE_BOX },
  { x: D_X[0], y: 1865, w: 376, h: 407, off: 66, title: "Aliphatic Index", range: [-37.8, 279], ticks: D_ALI_TICKS, dec: 0, real: D_ALI_REAL, fake: D_ALI_FAKE, realBox: D_ALI_REAL_BOX, fakeBox: D_ALI_FAKE_BOX },
  { x: D_X[1], y: 1865, w: 376, h: 407, off: 62, title: "Aromaticity", range: [-0.0747, 0.414], ticks: D_ARO_TICKS, dec: 1, real: D_ARO_REAL, fake: D_ARO_FAKE, realBox: D_ARO_REAL_BOX, fakeBox: D_ARO_FAKE_BOX },
  { x: D_X[2], y: 1865, w: 376, h: 407, off: 58, title: "Boman Index", range: [-4.17, 7.29], ticks: D_BOM_TICKS, dec: 0, real: D_BOM_REAL, fake: D_BOM_FAKE, realBox: D_BOM_REAL_BOX, fakeBox: D_BOM_FAKE_BOX },
  { x: D_X[3], y: 1865, w: 376, h: 407, off: 79, title: "Net Charge", range: [-7.23, 11.54], ticks: D_NET_TICKS, dec: 1, real: D_NET_REAL, fake: D_NET_FAKE, realBox: D_NET_REAL_BOX, fakeBox: D_NET_FAKE_BOX },
  { x: D_X[0], y: 2340, w: 376, h: 410, off: 108, title: "Charge Density", range: [-0.00418, 0.00546], ticks: D_CHG_TICKS, dec: 3, real: D_CHG_REAL, fake: D_CHG_FAKE, realBox: D_CHG_REAL_BOX, fakeBox: D_CHG_FAKE_BOX },
  { x: D_X[1], y: 2340, w: 376, h: 410, off: 62, title: "Hydrophobic Ratio", range: [-0.034, 0.939], ticks: D_HYD_TICKS, dec: 1, real: D_HYD_REAL, fake: D_HYD_FAKE, realBox: D_HYD_REAL_BOX, fakeBox: D_HYD_FAKE_BOX },
  { x: D_X[2], y: 2340, w: 376, h: 410, off: 69, title: "Instability Index", range: [-62.3, 221.7], ticks: D_INS_TICKS, dec: 0, real: D_INS_REAL, fake: D_INS_FAKE, realBox: D_INS_REAL_BOX, fakeBox: D_INS_FAKE_BOX },
  { x: D_X[3], y: 2340, w: 376, h: 410, off: 58, title: "Isoelectric Point", range: [0.56, 16.77], ticks: D_ISO_TICKS, dec: 0, real: D_ISO_REAL, fake: D_ISO_FAKE, realBox: D_ISO_REAL_BOX, fakeBox: D_ISO_FAKE_BOX },
];

const LETTERS = [
  { t: "A", x: 28, y: 32 },
  { t: "B", x: 23, y: 1064 },
  { t: "C", x: 1372, y: 1063 },
  { t: "D", x: 32, y: 1888 },
  { t: "E", x: 32, y: 2857 },
  { t: "F", x: 1385, y: 2857 },
];

export default function App() {
  return (
    <div style={{ position: "absolute", left: 0, top: 0, width: 2171, height: 3644, background: "#ffffff", overflow: "hidden" }}>
      {LETTERS.map((l) => (
        <div
          key={l.t}
          style={{ position: "absolute", left: l.x, top: l.y, fontFamily: "'Liberation Sans', Arial, sans-serif", fontWeight: 700, fontSize: 130, lineHeight: "130px", color: "#000" }}
        >
          {l.t}
        </div>
      ))}
      {VIOLINS.map((s, i) => {
        const padL = s.off + 12.6;
        return (
          <ChartBox key={i} x={s.x} y={s.y} w={s.w} h={s.h} pad={{ l: padL, t: V_PAD.t, r: V_PAD.r, b: V_PAD.b }} make={() => violinConfig(s, padL)} />
        );
      })}
      <ChartBox x={282} y={1049} w={985} h={625} pad={{ l: 111, t: 10, r: 12, b: 98 }} make={() => barConfig(B_REAL, B_FAKE, 13.81, B_TICKS, 111, 98)} />
      <ChartBox x={302} y={2901} w={1009} h={627} pad={{ l: 112, t: 10, r: 12, b: 100 }} make={() => barConfig(E_REAL, E_FAKE, 11.24, E_TICKS, 112, 100)} />
      <ChartBox
        x={1509} y={1065} w={586} h={587} pad={{ l: 51, t: 10, r: 22, b: 57 }}
        make={() => scatterConfig(C_FAKE, C_REAL, [14.99, 21.54], [2.77, 8.02], C_XTICKS, C_YTICKS, 51, 57,
          { anchor: "left", dx: 10, dy: 12, w: 128, h: 70, r: 6, items: [0, 1], marker: "circle", mx: 31, mr: 6, tx: 71, row0: 18, gap: 32, fs: 20 })}
      />
      <ChartBox
        x={1562} y={2923} w={585} h={585} pad={{ l: 51, t: 10, r: 22, b: 56 }}
        make={() => scatterConfig(F_FAKE, F_REAL, [4.29, 10.08], [1.91, 7.84], F_XTICKS, F_YTICKS, 51, 56,
          { anchor: "right", dx: 14, dy: 11, w: 124, h: 69, r: 6, items: [0, 1], marker: "circle", mx: 30, mr: 6, tx: 69, row0: 18, gap: 32, fs: 20 })}
      />
    </div>
  );
}
